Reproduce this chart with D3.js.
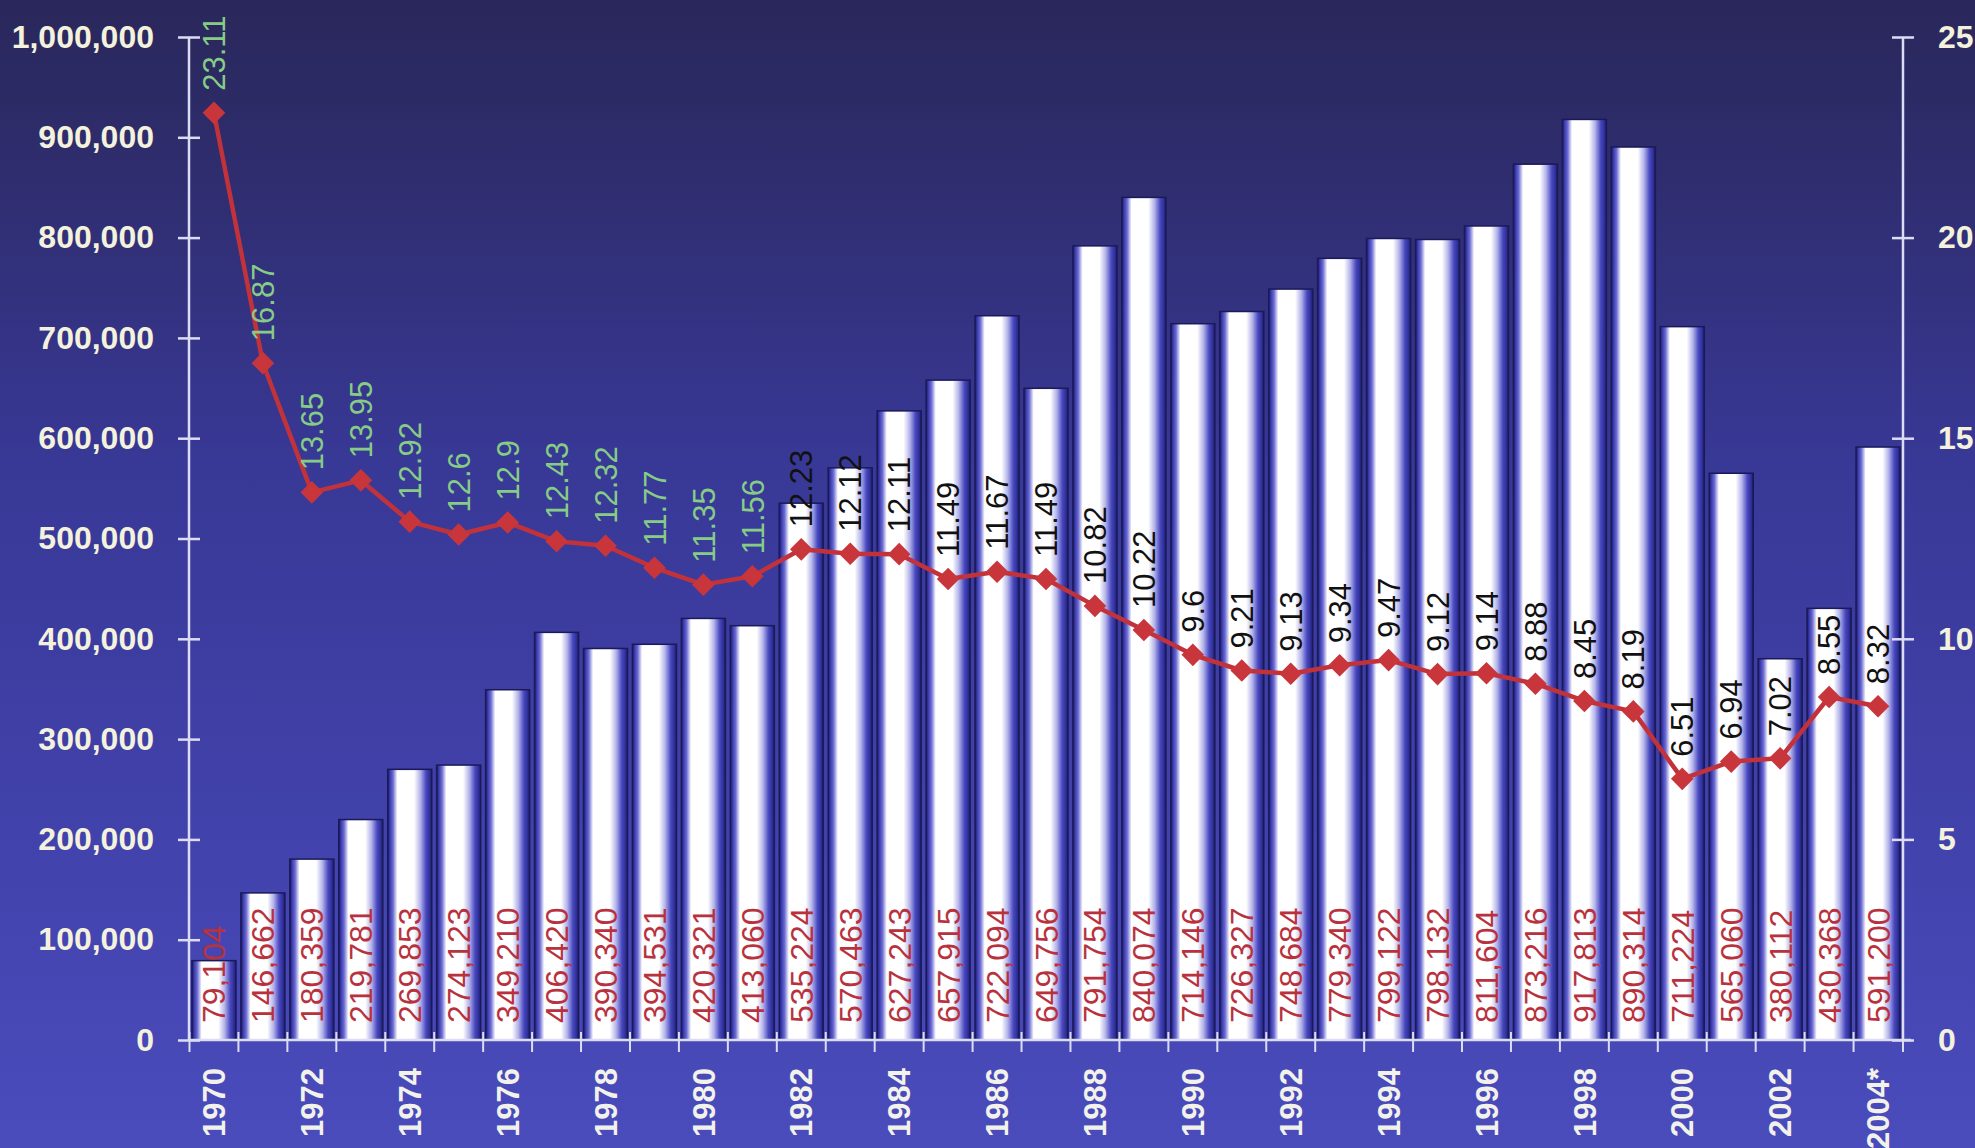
<!DOCTYPE html>
<html>
<head>
<meta charset="utf-8">
<script src="https://cdn.jsdelivr.net/npm/d3@7"></script>
<style>
  html, body { margin: 0; padding: 0; background: #2e2e80; }
  svg { display: block; }
</style>
</head>
<body>
<svg id="chart" width="1975" height="1148"></svg>
<script>
// ---- data ----
const years = ["1970","1971","1972","1973","1974","1975","1976","1977","1978","1979",
  "1980","1981","1982","1983","1984","1985","1986","1987","1988","1989",
  "1990","1991","1992","1993","1994","1995","1996","1997","1998","1999",
  "2000","2001","2002","2003","2004*"];
const barValues = [79104,146662,180359,219781,269853,274123,349210,406420,390340,394531,
  420321,413060,535224,570463,627243,657915,722094,649756,791754,840074,
  714146,726327,748684,779340,799122,798132,811604,873216,917813,890314,
  711224,565060,380112,430368,591200];
const lineValues = [23.11,16.87,13.65,13.95,12.92,12.6,12.9,12.43,12.32,11.77,
  11.35,11.56,12.23,12.12,12.11,11.49,11.67,11.49,10.82,10.22,
  9.6,9.21,9.13,9.34,9.47,9.12,9.14,8.88,8.45,8.19,
  6.51,6.94,7.02,8.55,8.32];
const lineLabels = ["23.11","16.87","13.65","13.95","12.92","12.6","12.9","12.43","12.32","11.77",
  "11.35","11.56","12.23","12.12","12.11","11.49","11.67","11.49","10.82","10.22",
  "9.6","9.21","9.13","9.34","9.47","9.12","9.14","8.88","8.45","8.19",
  "6.51","6.94","7.02","8.55","8.32"];
const leftTicks = [0,100000,200000,300000,400000,500000,600000,700000,800000,900000,1000000];
const rightTicks = [0,5,10,15,20,25];
const xLabelYears = years.filter((d,i) => i % 2 === 0);

// ---- layout ----
const W = 1975, H = 1148;
const x0 = 189, x1 = 1903, yBase = 1040, yTop = 37;
const FONT = "'Liberation Sans', Arial, sans-serif";

const svg = d3.select("#chart");
const defs = svg.append("defs");

const bg = defs.append("linearGradient").attr("id","bg").attr("x1",0).attr("y1",0).attr("x2",0).attr("y2",1);
[["0%","#29275a"],["15%","#2f2d6e"],["40%","#383896"],["70%","#4141aa"],["100%","#4a4cbc"]].forEach(s =>
  bg.append("stop").attr("offset",s[0]).attr("stop-color",s[1]));

const bg2 = defs.append("linearGradient").attr("id","barg").attr("x1",0).attr("y1",0).attr("x2",1).attr("y2",0);
[["0%","#1c1c60"],["5%","#3a3aae"],["12%","#6a6ad2"],["22%","#ffffff"],["60%","#ffffff"],
 ["74%","#b4b4ea"],["87%","#4848c0"],["95%","#30309a"],["100%","#1c1c60"]].forEach(s =>
  bg2.append("stop").attr("offset",s[0]).attr("stop-color",s[1]));

svg.append("rect").attr("width",W).attr("height",H).attr("fill","url(#bg)");

// ---- scales ----
const x = d3.scaleBand().domain(years).range([x0, x1]).paddingInner(0.1).paddingOuter(0.06);
const yL = d3.scaleLinear().domain([0, 1000000]).range([yBase, yTop]);
const yR = d3.scaleLinear().domain([0, 25]).range([yBase, yTop]);

// ---- bars ----
svg.append("g").selectAll("rect").data(years).join("rect")
  .attr("x", d => x(d))
  .attr("y", (d,i) => yL(barValues[i]))
  .attr("width", x.bandwidth())
  .attr("height", (d,i) => yBase - yL(barValues[i]))
  .attr("fill", "url(#barg)")
  .attr("stroke", "#1a1a58")
  .attr("stroke-width", 1.5);

// bar value labels
svg.append("g").selectAll("text").data(years).join("text")
  .attr("transform", d => `translate(${x(d) + x.bandwidth()/2},${yBase - 17}) rotate(-90)`)
  .attr("dy", "0.36em")
  .attr("text-anchor", "start")
  .attr("font-family", FONT)
  .attr("font-size", 32)
  .attr("fill", "#b8323e")
  .text((d,i) => d3.format(",")(barValues[i]));

// ---- axes ----
const axisColor = "#dcdcf4";
const textColor = "#f4f2dc";

const gL = svg.append("g").attr("transform", `translate(${x0},0)`)
  .call(d3.axisLeft(yL).tickValues(leftTicks).tickFormat(d3.format(",")).tickSize(11).tickPadding(24));
gL.select(".domain").attr("stroke", axisColor).attr("stroke-width", 2.5).attr("d", `M0,${yTop}V${yBase}`);
gL.selectAll(".tick line").attr("x1", 11).attr("x2", -11).attr("stroke", axisColor).attr("stroke-width", 2.5);
gL.selectAll(".tick text").attr("font-family", FONT).attr("font-size", 32).attr("font-weight", "bold").attr("fill", textColor);

const gR = svg.append("g").attr("transform", `translate(${x1},0)`)
  .call(d3.axisRight(yR).tickValues(rightTicks).tickSize(11).tickPadding(24));
gR.select(".domain").attr("stroke", axisColor).attr("stroke-width", 2.5).attr("d", `M0,${yTop}V${yBase}`);
gR.selectAll(".tick line").attr("x1", -11).attr("x2", 11).attr("stroke", axisColor).attr("stroke-width", 2.5);
gR.selectAll(".tick text").attr("font-family", FONT).attr("font-size", 32).attr("font-weight", "bold").attr("fill", textColor);

// bottom axis
const gB = svg.append("g").attr("transform", `translate(0,${yBase})`);
gB.append("line").attr("x1", x0).attr("x2", x1 + 8).attr("y1", 0).attr("y2", 0)
  .attr("stroke", axisColor).attr("stroke-width", 2.5);
const step = x.step();
const boundaries = years.map(d => x(d) - (step - x.bandwidth())/2).concat([x1]);
gB.selectAll("line.tk").data(boundaries).join("line").attr("class","tk")
  .attr("x1", d => d).attr("x2", d => d).attr("y1", -8).attr("y2", 12)
  .attr("stroke", axisColor).attr("stroke-width", 2);
gB.selectAll("text").data(xLabelYears).join("text")
  .attr("transform", d => `translate(${x(d) + x.bandwidth()/2},28) rotate(-90)`)
  .attr("dy", "0.36em")
  .attr("text-anchor", "end")
  .attr("font-family", FONT)
  .attr("font-size", 31)
  .attr("font-weight", "bold")
  .attr("fill", "#f2f2ea")
  .text(d => d);

// ---- line ----
const cx = d => x(d) + x.bandwidth()/2;
svg.append("path")
  .datum(years)
  .attr("d", d3.line().x(d => cx(d)).y((d,i) => yR(lineValues[i])))
  .attr("fill", "none")
  .attr("stroke", "#c2323a")
  .attr("stroke-width", 4.5)
  .attr("stroke-linejoin", "round");

svg.append("g").selectAll("rect").data(years).join("rect")
  .attr("x", -8).attr("y", -8).attr("width", 16).attr("height", 16)
  .attr("transform", (d,i) => `translate(${cx(d)},${yR(lineValues[i])}) rotate(45)`)
  .attr("fill", "#c8363c");

// line value labels
svg.append("g").selectAll("text").data(years).join("text")
  .attr("transform", (d,i) => `translate(${cx(d)},${yR(lineValues[i]) - 22}) rotate(-90)`)
  .attr("dy", "0.36em")
  .attr("text-anchor", "start")
  .attr("font-family", FONT)
  .attr("font-size", 31)
  .attr("fill", (d,i) => i < 12 ? "#86cc86" : "#111111")
  .text((d,i) => lineLabels[i]);
</script>
</body>
</html>
